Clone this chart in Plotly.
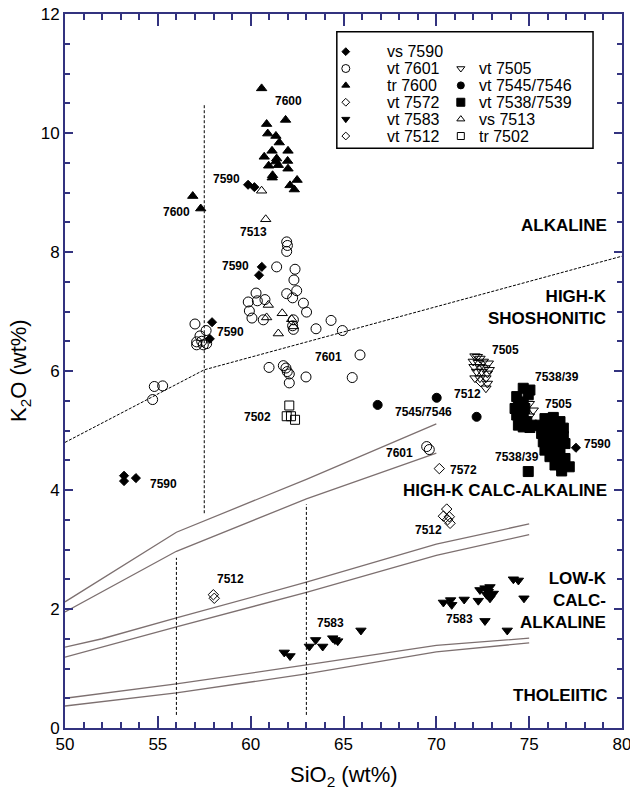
import plotly.graph_objects as go

# ---------------- data ----------------
vs7590_x = [53.18, 53.18, 53.82, 57.92, 57.80, 60.60, 60.45, 59.86, 60.20, 77.52]
vs7590_y = [4.24, 4.15, 4.20, 6.82, 6.54, 7.75, 7.61, 9.13, 9.09, 4.71]

vt7601_x = [61.94, 61.98, 61.94, 61.40, 62.39, 62.33, 62.48, 61.94, 62.26, 60.29,
            59.87, 60.36, 60.77, 59.93, 60.07, 60.68, 62.84, 63.01, 62.30, 62.26,
            62.30, 63.52, 64.33, 64.94, 65.89, 60.99, 61.76, 61.90, 61.97, 62.08,
            62.08, 62.98, 65.47, 57.00, 57.60, 57.27, 57.09, 57.36, 57.63, 57.09,
            57.45, 54.81, 55.26, 54.72, 69.48, 69.62]
vt7601_y = [8.17, 8.11, 8.01, 7.75, 7.71, 7.53, 7.35, 7.30, 7.23, 7.31,
            7.16, 7.18, 7.20, 7.01, 6.89, 6.86, 7.14, 6.99, 6.86, 6.76,
            6.70, 6.71, 6.85, 6.68, 6.27, 6.06, 6.09, 6.05, 5.99, 5.95,
            5.80, 5.90, 5.89, 6.79, 6.68, 6.59, 6.49, 6.50, 6.46, 6.44,
            6.44, 5.74, 5.75, 5.52, 4.73, 4.68]

tr7600_x = [60.59, 60.86, 61.88, 60.92, 61.36, 61.54, 61.15, 62.01, 60.73, 61.40,
            61.36, 61.49, 61.99, 60.97, 62.01, 61.18, 61.16, 62.50, 62.12, 62.35,
            56.88, 57.31]
tr7600_y = [10.75, 10.15, 10.22, 9.99, 9.95, 9.84, 9.70, 9.70, 9.60, 9.57,
            9.52, 9.46, 9.53, 9.45, 9.40, 9.29, 9.25, 9.21, 9.12, 9.05,
            8.94, 8.73]

vt7572_x = [70.16]
vt7572_y = [4.36]

vt7583_x = [61.81, 62.12, 63.16, 63.50, 63.88, 64.42, 64.69, 64.54, 65.94,
            70.38, 70.77, 70.83, 71.50, 72.26, 72.35, 72.62, 72.89, 72.80, 72.98,
            72.89, 73.07, 72.71, 72.62, 73.82, 74.15, 74.42, 74.72]
vt7583_y = [1.27, 1.21, 1.37, 1.48, 1.37, 1.51, 1.46, 1.48, 1.64,
            2.11, 2.15, 2.07, 2.16, 2.14, 2.32, 2.35, 2.37, 2.29, 2.24,
            2.18, 2.26, 2.24, 1.80, 1.64, 2.50, 2.48, 2.18]

vt7512_x = [70.56, 70.38, 70.70, 70.61, 70.74, 57.99, 58.04, 72.40]
vt7512_y = [3.68, 3.56, 3.55, 3.50, 3.44, 2.24, 2.18, 5.82]

vt7505_x = [72.08, 72.21, 72.35, 71.99, 72.26, 72.53, 72.80, 72.03, 72.35, 72.62,
            72.85, 72.17, 72.44, 72.75, 72.08, 72.35, 72.67, 72.75, 72.67,
            75.01, 75.22, 75.01]
vt7505_y = [6.25, 6.24, 6.21, 6.16, 6.14, 6.16, 6.13, 6.07, 6.07, 6.05,
            6.02, 5.99, 5.99, 5.96, 5.88, 5.88, 5.88, 5.79, 5.71,
            5.45, 5.34, 5.24]

vt7545_x = [66.84, 70.02, 72.17]
vt7545_y = [5.43, 5.55, 5.23]

vt7538_x = [74.68, 75.04, 74.95, 74.33, 74.42, 74.24, 74.33, 74.51, 74.42, 74.68,
            74.77, 74.68, 74.87, 75.13, 74.68, 75.04,
            75.85, 76.30, 76.66, 75.58, 76.03, 76.48, 76.84, 75.67, 76.12, 76.52,
            76.84, 75.76, 76.21, 76.57, 76.93, 75.85, 76.30, 76.66, 76.12, 76.48,
            76.93, 76.39, 76.75, 77.16, 76.75, 74.95]
vt7538_y = [5.71, 5.68, 5.60, 5.57, 5.46, 5.37, 5.26, 5.18, 5.09, 5.48,
            5.37, 5.26, 5.15, 5.09, 5.06, 5.05,
            5.20, 5.22, 5.15, 5.09, 5.09, 5.08, 5.04, 4.95, 4.95, 4.92,
            4.90, 4.81, 4.81, 4.78, 4.78, 4.67, 4.67, 4.64, 4.56, 4.53,
            4.53, 4.42, 4.40, 4.39, 4.32, 4.31]

vs7513_x = [60.59, 60.81, 60.95, 61.70, 60.86, 62.21, 62.30, 61.49]
vs7513_y = [9.03, 8.55, 7.11, 6.97, 6.90, 6.87, 6.75, 6.63]

tr7502_x = [62.08, 61.94, 62.17, 62.39]
tr7502_y = [5.42, 5.24, 5.24, 5.18]

# classification boundaries
alk_x = [50, 57.5, 80]
alk_y = [4.80, 6.02, 7.93]
sho_up_x = [50, 56, 63, 70]
sho_up_y = [2.12, 3.29, 4.18, 5.11]
sho_lo_x = [50, 56, 63, 70]
sho_lo_y = [1.95, 2.97, 3.85, 4.62]
hk_up_x = [50, 52, 56, 63, 70, 75]
hk_up_y = [1.36, 1.50, 1.85, 2.45, 3.09, 3.43]
hk_lo_x = [50, 56, 63, 70, 75]
hk_lo_y = [1.19, 1.70, 2.28, 2.90, 3.25]
th_up_x = [50, 56, 63, 70, 75]
th_up_y = [0.50, 0.74, 1.06, 1.39, 1.51]
th_lo_x = [50, 56, 63, 70, 75]
th_lo_y = [0.37, 0.59, 0.91, 1.28, 1.43]
vdash_x = [57.5, 56, 63]
vdash_y0 = [3.61, 0.22, 0.22]
vdash_y1 = [10.5, 2.86, 3.76]

# point labels
lab_text = ["7600", "7600", "7590", "7513", "7590", "7590", "7590", "7502", "7601",
            "7545/7546", "7601", "7572", "7512", "7512", "7583", "7583", "7505",
            "7512", "7538/39", "7505", "7590", "7538/39"]
lab_x = [62.06, 56.01, 58.71, 60.14, 59.16, 58.89, 55.33, 60.36, 64.18,
         69.30, 67.99, 71.45, 69.57, 58.89, 64.31, 71.24, 73.75,
         71.69, 76.48, 76.57, 78.67, 74.36]
lab_y = [10.53, 8.68, 9.23, 8.33, 7.77, 6.65, 4.10, 5.23, 6.24,
         5.31, 4.63, 4.34, 3.32, 2.50, 1.76, 1.83, 6.35,
         5.61, 5.90, 5.44, 4.77, 4.55]

# region labels
reg_text = ["ALKALINE", "HIGH-K<br>SHOSHONITIC", "HIGH-K CALC-ALKALINE",
            "LOW-K<br>CALC-<br>ALKALINE", "THOLEIITIC"]
reg_y = [8.44, 7.06, 4.00, 2.15, 0.54]

# legend
leg_names = ["vs 7590", "vt 7601", "tr 7600", "vt 7572", "vt 7583", "vt 7512",
             "vt 7505", "vt 7545/7546", "vt 7538/7539", "vs 7513", "tr 7502"]

# ---------------- figure ----------------
NAVY = "#33337f"
GREY = "#7d7070"
FONT = "Arial, Liberation Sans, sans-serif"

series = [
    (vs7590_x, vs7590_y, "diamond", 7),
    (vt7601_x, vt7601_y, "circle-open", 10),
    (tr7600_x, tr7600_y, "triangle-up", 9),
    (vt7572_x, vt7572_y, "diamond-open", 8),
    (vt7583_x, vt7583_y, "triangle-down", 9),
    (vt7512_x, vt7512_y, "diamond-open", 8),
    (vt7505_x, vt7505_y, "triangle-down-open", 9),
    (vt7545_x, vt7545_y, "circle", 9),
    (vt7538_x, vt7538_y, "square", 10),
    (vs7513_x, vs7513_y, "triangle-up-open", 9),
    (tr7502_x, tr7502_y, "square-open", 9),
]

fig = go.Figure()

for bx, by, dash, col in [
    (sho_up_x, sho_up_y, None, GREY), (sho_lo_x, sho_lo_y, None, GREY),
    (hk_up_x, hk_up_y, None, GREY), (hk_lo_x, hk_lo_y, None, GREY),
    (th_up_x, th_up_y, None, GREY), (th_lo_x, th_lo_y, None, GREY),
    (alk_x, alk_y, "3px,1.5px", "black"),
]:
    fig.add_trace(go.Scatter(x=bx, y=by, mode="lines", showlegend=False,
                             hoverinfo="skip",
                             line=dict(color=col, width=1.3 if col == GREY else 1,
                                       dash=dash)))

for vx, a, b in zip(vdash_x, vdash_y0, vdash_y1):
    fig.add_trace(go.Scatter(x=[vx, vx], y=[a, b], mode="lines", showlegend=False,
                             hoverinfo="skip",
                             line=dict(color="black", width=1, dash="3px,2px")))

for sx, sy, sym, size in series:
    fig.add_trace(go.Scatter(x=sx, y=sy, mode="markers", showlegend=False,
                             marker=dict(symbol=sym, size=size, color="black",
                                         line=dict(color="black", width=1))))

annotations = []
for t, x, y in zip(lab_text, lab_x, lab_y):
    annotations.append(dict(x=x, y=y, text="<b>%s</b>" % t, showarrow=False,
                            xref="x", yref="y",
                            font=dict(family=FONT, size=12, color="black")))
for t, y in zip(reg_text, reg_y):
    annotations.append(dict(x=79.3, y=y, text="<b>%s</b>" % t, showarrow=False,
                            xref="x", yref="y", xanchor="right", align="right",
                            font=dict(family=FONT, size=17, color="black")))

# legend built on a small overlay axis
leg_rows = [0.83, 0.685, 0.54, 0.395, 0.25, 0.105]
leg_pos = []
for i in range(6):
    leg_pos.append((0.035, leg_rows[i], 0.19))
for i in range(1, 6):
    leg_pos.append((0.484, leg_rows[i], 0.547))

for (sx, sy, sym, size), name, (mx, my, tx) in zip(series, leg_names, leg_pos):
    fig.add_trace(go.Scatter(x=[mx], y=[my], mode="markers", showlegend=False,
                             xaxis="x2", yaxis="y2", hoverinfo="skip",
                             marker=dict(symbol=sym, size=max(size - 2, 6),
                                         color="black",
                                         line=dict(color="black", width=1))))
    annotations.append(dict(x=tx, y=my, text=name, showarrow=False,
                            xref="x2", yref="y2", xanchor="left",
                            font=dict(family=FONT, size=16, color="black")))

annotations.append(dict(x=0.5, y=0.0, xref="paper", yref="paper", yshift=-48,
                        yanchor="middle",
                        text="SiO<sub>2</sub> (wt%)", showarrow=False,
                        font=dict(family=FONT, size=22, color="black")))
annotations.append(dict(x=0.0, y=0.5, xref="paper", yref="paper", xshift=-45,
                        xanchor="center", yanchor="middle", textangle=-90,
                        text="K<sub>2</sub>O (wt%)", showarrow=False,
                        font=dict(family=FONT, size=22, color="black")))

fig.update_layout(
    width=630, height=794,
    margin=dict(l=65, r=8, t=14, b=66, autoexpand=False),
    paper_bgcolor="white", plot_bgcolor="white",
    font=dict(family=FONT, color="black"),
    annotations=annotations,
    shapes=[dict(type="rect", xref="paper", yref="paper",
                 x0=0.488, x1=0.948, y0=0.812, y1=0.975,
                 line=dict(color="black", width=1.5))],
    xaxis=dict(range=[50, 80], dtick=5, tick0=50, showgrid=False, zeroline=False,
               automargin=False, ticklabeloverflow="allow",
               showline=True, linecolor=NAVY, linewidth=2, mirror="ticks",
               ticks="inside", ticklen=12, tickwidth=1.5, tickcolor=NAVY,
               tickfont=dict(family=FONT, size=17, color="black"),
               minor=dict(dtick=1, ticks="inside", ticklen=6, tickwidth=1.5,
                          tickcolor=NAVY, showgrid=False)),
    yaxis=dict(range=[0, 12], dtick=2, tick0=0, showgrid=False, zeroline=False,
               automargin=False, ticklabeloverflow="allow",
               showline=True, linecolor=NAVY, linewidth=2, mirror="ticks",
               ticks="inside", ticklen=8, tickwidth=1.5, tickcolor=NAVY,
               tickfont=dict(family=FONT, size=17, color="black"),
               minor=dict(dtick=0.5, ticks="inside", ticklen=5, tickwidth=1.5,
                          tickcolor=NAVY, showgrid=False)),
    xaxis2=dict(domain=[0.488, 0.948], range=[0, 1], anchor="y2", visible=False,
                fixedrange=True),
    yaxis2=dict(domain=[0.812, 0.975], range=[0, 1], anchor="x2", visible=False,
                fixedrange=True),
)

fig.write_html("out.html")
